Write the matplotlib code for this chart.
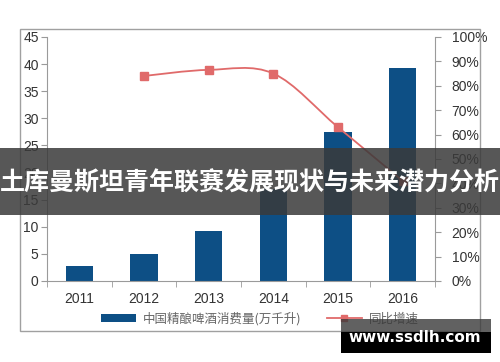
import numpy as np
import matplotlib
matplotlib.use("Agg")
import matplotlib.pyplot as plt
from matplotlib.path import Path
from matplotlib.patches import PathPatch, Rectangle, Patch
from matplotlib.lines import Line2D

plt.rcParams['font.family'] = ['Liberation Sans', 'Noto Sans CJK SC', 'DejaVu Sans']

years = ['2011', '2012', '2013', '2014', '2015', '2016']
volume = [2.7, 4.9, 9.2, 17.0, 27.5, 39.2]          # 万千升
growth_years = [1, 2, 3, 4, 5]                       # index into years
growth = [84, 86.5, 85, 63, 41]                      # %

bar_label = '中国精酿啤酒消费量(万千升)'
line_label = '同比增速'
banner = '土库曼斯坦青年联赛发展现状与未来潜力分析'
site = 'www.ssdlh.com'

bar_color = '#0d4f85'
line_color = '#e06a6a'
axis_color = '#9a9a9a'
text_color = '#333333'

fig = plt.figure(figsize=(5, 3.62), dpi=100)
ax = fig.add_axes([0.094, 0.224, 0.776, 0.674])
ax2 = ax.twinx()

x = np.arange(len(years))
ax.bar(x, volume, width=0.42, color=bar_color, zorder=2)
ax.set_xlim(-0.5, len(years) - 0.5)
ax.set_ylim(0, 45)
ax.set_yticks(np.arange(0, 46, 5))
ax.set_xticks(x)
ax.set_xticklabels(years)
ax.set_xticks(np.arange(-0.5, len(years)), minor=True)
ax.tick_params(axis='x', which='major', length=0, pad=8, labelsize=10, labelcolor=text_color)
ax.tick_params(axis='x', which='minor', length=4, color=axis_color, direction='out')
ax.tick_params(axis='y', length=4, color=axis_color, labelsize=10, labelcolor=text_color, pad=2)

# smooth growth curve (Catmull-Rom -> cubic bezier)
gx = np.array(growth_years, dtype=float)
gy = np.array(growth, dtype=float)
pts = np.column_stack([gx, gy])
verts = [pts[0]]
codes = [Path.MOVETO]
for i in range(len(pts) - 1):
    p0 = pts[i - 1] if i > 0 else pts[i]
    p1 = pts[i]
    p2 = pts[i + 1]
    p3 = pts[i + 2] if i + 2 < len(pts) else pts[i + 1]
    c1 = p1 + (p2 - p0) / 6.0
    c2 = p2 - (p3 - p1) / 6.0
    verts += [c1, c2, p2]
    codes += [Path.CURVE4] * 3
ax2.add_patch(PathPatch(Path(verts, codes), facecolor='none', edgecolor=line_color, lw=1.3, zorder=3))
ax2.plot(gx, gy, linestyle='none', marker='s', markersize=6, color=line_color, zorder=4)
ax2.set_ylim(0, 100)
ax2.set_yticks(np.arange(0, 101, 10))
ax2.set_yticklabels([f'{v}%' for v in range(0, 101, 10)])
ax2.tick_params(axis='y', length=4, color=axis_color, labelsize=10, labelcolor=text_color, pad=8)

for a in (ax, ax2):
    a.spines['top'].set_visible(False)
    for s in ('left', 'right', 'bottom'):
        a.spines[s].set_color(axis_color)
ax.spines['right'].set_visible(False)
ax2.spines['left'].set_visible(False)
ax2.spines['bottom'].set_visible(False)

handles = [Patch(facecolor=bar_color, label=bar_label),
           Line2D([], [], color=line_color, lw=1.3, marker='s', markersize=5, label=line_label)]
fig.legend(handles=handles, loc='center', bbox_to_anchor=(0.52, 0.119), ncol=2, frameon=False,
           prop={'family': ['Noto Sans CJK SC'], 'size': 9}, labelcolor='#666666',
           handlelength=2.8, handleheight=0.6, handletextpad=0.55, columnspacing=2.0)

# outer frame
fig.patches.append(Rectangle((0.04, 0.0856), 0.92, 0.834, transform=fig.transFigure,
                             fill=False, edgecolor='#a0a0a0', lw=1, zorder=1))

# banner overlay
fig.patches.append(Rectangle((0, 0.406), 1, 0.185, transform=fig.transFigure,
                             facecolor='#3a3a3a', alpha=0.85, edgecolor='none', zorder=10))
fig.text(0.5, 0.494, banner, ha='center', va='center', color='white', fontsize=18,
         fontweight='bold', family=['Noto Sans CJK SC'], zorder=11)

# site watermark
fig.patches.append(Rectangle((0.682, 0.083), 0.3, 0.036, transform=fig.transFigure,
                             facecolor='#3a3a3a', alpha=0.8, edgecolor='none', zorder=10))
fig.patches.append(Rectangle((0.682, 0.025), 0.3, 0.058, transform=fig.transFigure,
                             facecolor='black', edgecolor='none', zorder=10))
fig.text(0.83, 0.069, site, ha='center', va='center', color='white', fontsize=11,
         fontweight='bold', family=['DejaVu Sans'], zorder=11)

fig.savefig('out.png', dpi=100)
